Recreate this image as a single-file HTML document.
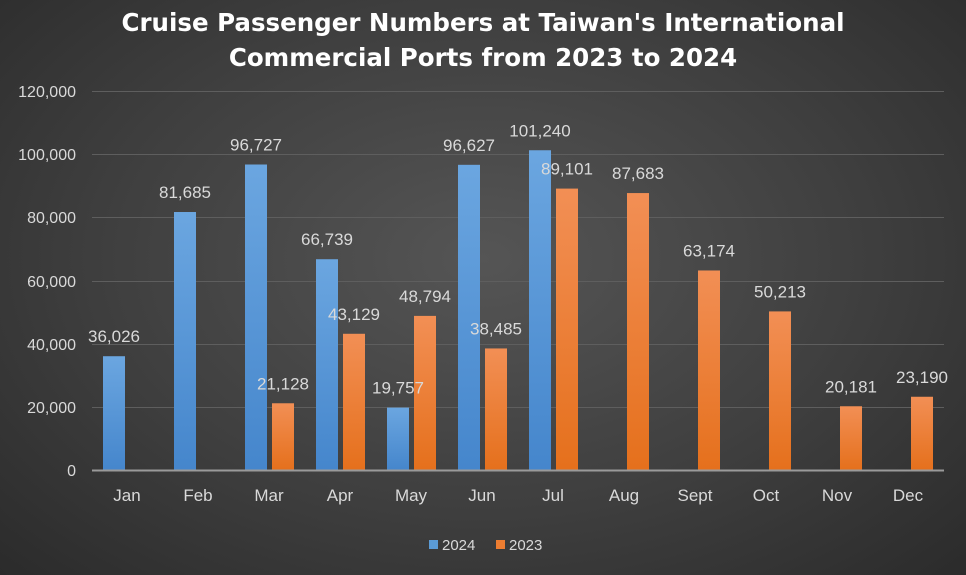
<!DOCTYPE html>
<html><head><meta charset="utf-8"><style>
html,body{margin:0;padding:0;}
body{width:966px;height:575px;overflow:hidden;background:radial-gradient(ellipse at 50% 45%,#555 0%,#3f3f3f 55%,#2b2b2b 100%);font-family:"Liberation Sans",sans-serif;}
</style></head><body>
<svg width="966" height="575" xmlns="http://www.w3.org/2000/svg" style="position:absolute;left:0;top:0">
<defs>
<linearGradient id="b" x1="0" y1="0" x2="0" y2="1"><stop offset="0" stop-color="#6ba6e0"/><stop offset="1" stop-color="#4586cc"/></linearGradient>
<linearGradient id="o" x1="0" y1="0" x2="0" y2="1"><stop offset="0" stop-color="#f28f55"/><stop offset="1" stop-color="#e5701c"/></linearGradient>
</defs>
<g font-family="DejaVu Sans, Liberation Sans, sans-serif" font-weight="bold" font-size="24.5" fill="#fff" text-anchor="middle">
<text x="483" y="31">Cruise Passenger Numbers at Taiwan's International</text>
<text x="483" y="66">Commercial Ports from 2023 to 2024</text>
</g>
<g stroke="#5e5e5e" stroke-width="1">
<line x1="92" x2="944" y1="91.5" y2="91.5"/><line x1="92" x2="944" y1="154.5" y2="154.5"/><line x1="92" x2="944" y1="217.5" y2="217.5"/><line x1="92" x2="944" y1="281.5" y2="281.5"/><line x1="92" x2="944" y1="344.5" y2="344.5"/><line x1="92" x2="944" y1="407.5" y2="407.5"/>
</g>
<g font-size="16" fill="#d9d9d9" text-anchor="end">
<text x="76" y="97">120,000</text><text x="76" y="160">100,000</text><text x="76" y="223">80,000</text><text x="76" y="287">60,000</text><text x="76" y="350">40,000</text><text x="76" y="413">20,000</text><text x="76" y="476">0</text>
</g>
<g id="bars"></g>
<line x1="92" x2="944" y1="470.5" y2="470.5" stroke="#9a9a9a" stroke-width="2"/>
<g id="labels" font-size="17" fill="#d9d9d9" text-anchor="middle"></g>
<rect x="429" y="540" width="9" height="9" fill="#5b9bd5"/><text x="442" y="550" font-size="15" fill="#d9d9d9">2024</text>
<rect x="496" y="540" width="9" height="9" fill="#ed7d31"/><text x="509" y="550" font-size="15" fill="#d9d9d9">2023</text>
</svg>
<script>
var m=["Jan","Feb","Mar","Apr","May","Jun","Jul","Aug","Sept","Oct","Nov","Dec"];
var b=[36026,81685,96727,66739,19757,96627,101240,null,null,null,null,null];
var o=[null,null,21128,43129,48794,38485,89101,87683,63174,50213,20181,23190];
var ns="http://www.w3.org/2000/svg",B=document.getElementById("bars"),L=document.getElementById("labels");
function el(t,a,p,tx){var e=document.createElementNS(ns,t);for(var k in a)e.setAttribute(k,a[k]);if(tx)e.textContent=tx;p.appendChild(e);return e;}
function f(v){return v.toString().replace(/\B(?=(\d{3})+(?!\d))/g,",");}
var base=470,sc=379/120000;
for(var i=0;i<12;i++){var x=103+71*i;
 el("text",{x:x+24,y:501},L,m[i]);
 if(b[i]){var h=b[i]*sc;el("rect",{x:x,y:base-h,width:22,height:h,fill:"url(#b)"},B);el("text",{x:x+11,y:base-h-14},L,f(b[i]));}
 if(o[i]){var h2=o[i]*sc;el("rect",{x:x+27,y:base-h2,width:22,height:h2,fill:"url(#o)"},B);el("text",{x:x+38,y:base-h2-14},L,f(o[i]));}
}
</script>
</body></html>
